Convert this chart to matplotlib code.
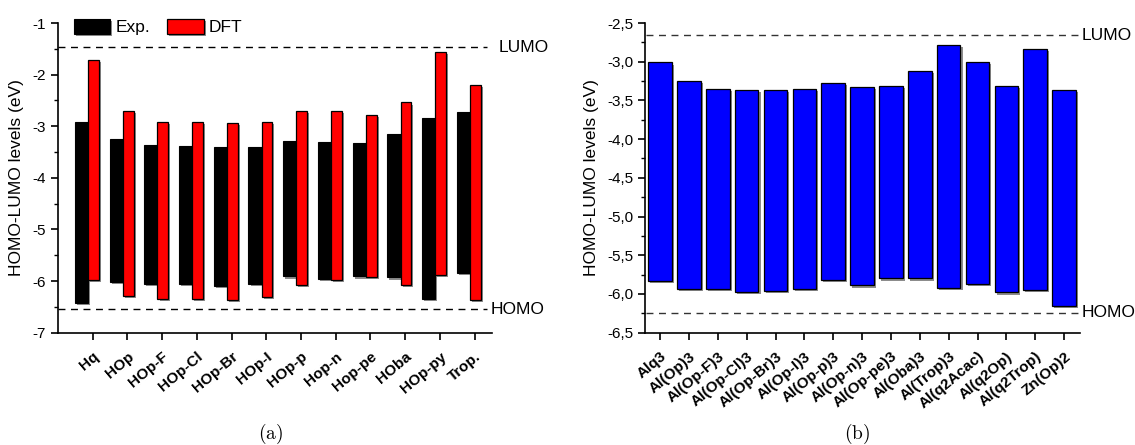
import matplotlib
matplotlib.use("Agg")
import matplotlib.pyplot as plt
import matplotlib.patheffects as pe
from matplotlib.ticker import MultipleLocator, FuncFormatter
import numpy as np

plt.rcParams['font.family'] = ['Liberation Sans', 'DejaVu Sans']
plt.rcParams['axes.unicode_minus'] = False
plt.rcParams['mathtext.fontset'] = 'cm'

# panel (a): ligands, experimental vs DFT
ligands = ['Hq', 'HOp', 'HOp-F', 'HOp-Cl', 'HOp-Br', 'HOp-I', 'HOp-p',
           'Hop-n', 'Hop-pe', 'HOba', 'HOp-py', 'Trop.']
exp_lumo = [-2.92, -3.25, -3.37, -3.38, -3.40, -3.40, -3.29, -3.31, -3.32, -3.15, -2.85, -2.73]
exp_homo = [-6.42, -6.01, -6.06, -6.06, -6.09, -6.06, -5.91, -5.96, -5.91, -5.93, -6.35, -5.84]
dft_lumo = [-1.71, -2.70, -2.91, -2.92, -2.94, -2.92, -2.71, -2.71, -2.78, -2.54, -1.56, -2.20]
dft_homo = [-5.97, -6.28, -6.34, -6.35, -6.37, -6.31, -6.08, -5.98, -5.92, -6.08, -5.88, -6.37]
lumo_a, homo_a = -1.47, -6.55

# panel (b): complexes
complexes = ['Alq3', 'Al(Op)3', 'Al(Op-F)3', 'Al(Op-Cl)3', 'Al(Op-Br)3', 'Al(Op-I)3',
             'Al(Op-p)3', 'Al(Op-n)3', 'Al(Op-pe)3', 'Al(Oba)3', 'Al(Trop)3',
             'Al(q2Acac)', 'Al(q2Op)', 'Al(q2Trop)', 'Zn(Op)2']
cplx_lumo = [-3.01, -3.25, -3.35, -3.37, -3.36, -3.35, -3.28, -3.33, -3.31, -3.12,
             -2.78, -3.00, -3.31, -2.84, -3.37]
cplx_homo = [-5.83, -5.93, -5.94, -5.97, -5.96, -5.93, -5.82, -5.89, -5.80, -5.80,
             -5.92, -5.87, -5.98, -5.95, -6.15]
lumo_b, homo_b = -2.66, -6.24

shadow = [pe.SimplePatchShadow(offset=(1.5, -1.5), shadow_rgbFace='0.5', alpha=0.9), pe.Normal()]

fig = plt.figure(figsize=(11.35, 4.45), dpi=100)
ax1 = fig.add_axes([0.0511, 0.2524, 0.3824, 0.6959])
ax2 = fig.add_axes([0.5686, 0.2524, 0.3829, 0.6959])

def style(ax):
    for s in ['top', 'right']:
        ax.spines[s].set_visible(False)
    ax.spines['left'].set_linewidth(1.2)
    ax.spines['bottom'].set_linewidth(1.2)
    ax.tick_params(axis='both', which='major', direction='out', length=5, width=1.2, labelsize=11)
    ax.tick_params(axis='x', which='major', pad=7)
    ax.tick_params(axis='y', which='minor', direction='out', length=3, width=1.0)

# (a)
x = np.arange(len(ligands))
ax1.bar(x - 0.325, np.array(exp_lumo) - np.array(exp_homo), bottom=exp_homo, width=0.38,
        color='black', edgecolor='black', linewidth=0.8, label='Exp.', path_effects=shadow, zorder=2)
ax1.bar(x + 0.02, np.array(dft_lumo) - np.array(dft_homo), bottom=dft_homo, width=0.31,
        color='#ff0000', edgecolor='black', linewidth=0.9, label='DFT', path_effects=shadow, zorder=3)
ax1.plot([-1, 11.35], [lumo_a, lumo_a], ls=(0, (5, 4)), color='black', lw=1.0)
ax1.plot([-1, 11.35], [homo_a, homo_a], ls=(0, (5, 4)), color='black', lw=1.0)
ax1.text(11.7, lumo_a, 'LUMO', va='center', ha='left', fontsize=12.5)
ax1.text(11.45, homo_a, 'HOMO', va='center', ha='left', fontsize=12.5)
ax1.set_xlim(-1, 11.5)
ax1.set_ylim(-7, -1)
ax1.yaxis.set_major_locator(MultipleLocator(1))
ax1.yaxis.set_minor_locator(MultipleLocator(0.5))
ax1.set_xticks(x)
ax1.set_xticklabels(ligands, rotation=40, ha='right', rotation_mode='anchor',
                    fontweight='bold', fontsize=9.5)
ax1.set_ylabel('HOMO-LUMO levels (eV)', fontsize=12.5, labelpad=6)
style(ax1)
ax1.legend(loc='center left', bbox_to_anchor=(0.02, 0.987), ncol=2, frameon=False,
           fontsize=12.5, handlelength=2.1, handleheight=0.95, columnspacing=1.0,
           handletextpad=0.3, borderaxespad=0)

# (b)
xb = np.arange(len(complexes))
ax2.bar(xb, np.array(cplx_lumo) - np.array(cplx_homo), bottom=cplx_homo, width=0.82,
        color='#0000ff', edgecolor='black', linewidth=0.9, path_effects=shadow, zorder=2)
ax2.plot([-0.5, 14.55], [lumo_b, lumo_b], ls=(0, (5, 4)), color='#333333', lw=1.0)
ax2.plot([-0.5, 14.55], [homo_b, homo_b], ls=(0, (5, 4)), color='#333333', lw=1.0)
ax2.text(14.6, lumo_b, 'LUMO', va='center', ha='left', fontsize=12.5)
ax2.text(14.6, homo_b, 'HOMO', va='center', ha='left', fontsize=12.5)
ax2.set_xlim(-0.51, 14.55)
ax2.set_ylim(-6.5, -2.5)
ax2.yaxis.set_major_locator(MultipleLocator(0.5))
ax2.yaxis.set_minor_locator(MultipleLocator(0.25))
ax2.yaxis.set_major_formatter(FuncFormatter(lambda v, p: ('%.1f' % v).replace('.', ',')))
ax2.set_xticks(xb)
ax2.set_xticklabels(complexes, rotation=40, ha='right', rotation_mode='anchor',
                    fontweight='bold', fontsize=8.5)
ax2.set_ylabel('HOMO-LUMO levels (eV)', fontsize=12.5, labelpad=6)
style(ax2)

fig.text(0.238, 0.025, r'$\mathrm{(a)}$', fontsize=14, ha='center', va='center')
fig.text(0.755, 0.025, r'$\mathrm{(b)}$', fontsize=14, ha='center', va='center')

fig.savefig('out.png', dpi=100)
